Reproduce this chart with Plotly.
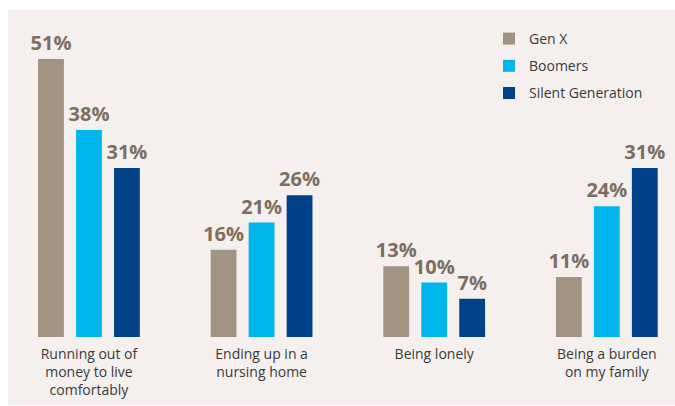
import plotly.graph_objects as go

# Survey results: biggest worries about ageing, by generation (percent)
categories = [
    "Running out of<br>money to live<br>comfortably",
    "Ending up in a<br>nursing home",
    "Being lonely",
    "Being a burden<br>on my family",
]
gen_x = [51, 16, 13, 11]
boomers = [38, 21, 10, 24]
silent_gen = [31, 26, 7, 31]

series_names = ["Gen X", "Boomers", "Silent Generation"]
series_colors = ["#A19483", "#00B5EC", "#00428A"]
label_color = "#7D6E60"
panel_color = "#F5F0ED"
text_color = "#3A3A3A"

fig = go.Figure()
for i, (name, vals, col) in enumerate(zip(series_names, [gen_x, boomers, silent_gen], series_colors)):
    fig.add_trace(go.Bar(
        x=categories,
        y=vals,
        name=name,
        legendgroup=name,
        marker=dict(color=col, line=dict(width=0)),
        texttemplate="%{y}%",
        textposition="outside",
        constraintext="none",
        cliponaxis=False,
        textfont=dict(family="Open Sans", size=20, color=label_color, weight="bold"),
        hoverinfo="skip",
    ))

plot_h = 406 - 10 - 69
fig.update_layout(
    width=675,
    height=406,
    margin=dict(l=8, r=0, t=10, b=69),
    paper_bgcolor="white",
    plot_bgcolor="rgba(0,0,0,0)",
    barmode="group",
    bargap=0.34,
    bargroupgap=0.32,
    font=dict(family="Open Sans", size=14, color=text_color),
    showlegend=True,
    legend=dict(
        x=(489 - 8) / 667,
        xanchor="left",
        y=1 - 13 / plot_h,
        yanchor="top",
        bgcolor="rgba(0,0,0,0)",
        font=dict(family="Open Sans", size=14, color=text_color),
        tracegroupgap=6,
        traceorder="grouped",
    ),
    shapes=[dict(
        type="rect", xref="paper", yref="paper",
        x0=0, x1=1, y0=-(405 - 337) / plot_h, y1=1,
        fillcolor=panel_color, line=dict(width=0), layer="below",
    )],
    xaxis=dict(
        type="category",
        range=[-0.469, 3.395],
        showgrid=False, zeroline=False, showline=False,
        ticks="outside", ticklen=4, tickcolor="rgba(0,0,0,0)",
        tickfont=dict(family="Open Sans", size=14, color=text_color),
        fixedrange=True,
    ),
    yaxis=dict(
        range=[0, 60],
        visible=False,
        fixedrange=True,
    ),
)

fig.write_html("out.html")
